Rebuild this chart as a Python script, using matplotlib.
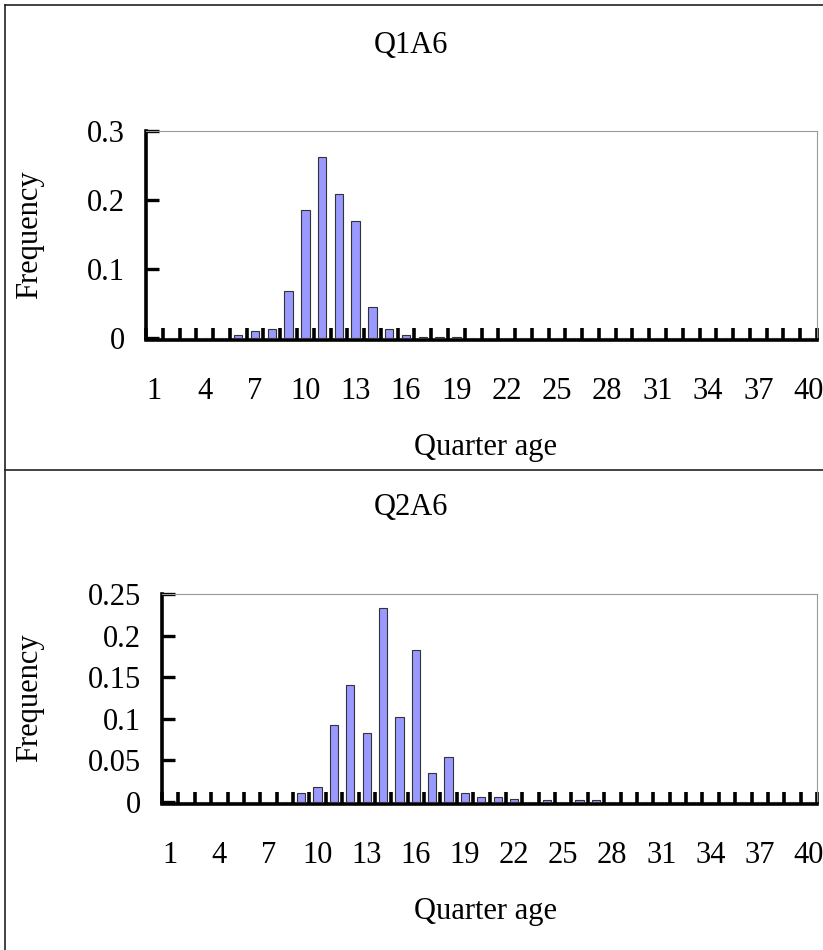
import matplotlib
matplotlib.use("Agg")
import matplotlib.pyplot as plt
from matplotlib.lines import Line2D
import numpy as np

plt.rcParams['font.family'] = ['Liberation Serif', 'DejaVu Serif']

ages = list(range(1, 41))
tick_labels = [str(a) for a in range(1, 41, 3)]

q1_vals = {6: 0.004, 7: 0.010, 8: 0.0135, 9: 0.068, 10: 0.185, 11: 0.263,
           12: 0.208, 13: 0.170, 14: 0.045, 15: 0.0135, 16: 0.004,
           17: 0.001, 18: 0.002, 19: 0.001}
q2_vals = {9: 0.011, 10: 0.018, 11: 0.092, 12: 0.141, 13: 0.083, 14: 0.233,
           15: 0.1025, 16: 0.1825, 17: 0.035, 18: 0.054, 19: 0.011,
           20: 0.006, 21: 0.006, 22: 0.0035, 24: 0.003, 26: 0.003, 27: 0.003}
q1 = [q1_vals.get(a, 0.0) for a in ages]
q2 = [q2_vals.get(a, 0.0) for a in ages]

titles = ["Q1A6", "Q2A6"]
yticks_list = [[0, 0.1, 0.2, 0.3], [0, 0.05, 0.1, 0.15, 0.2, 0.25]]
ytick_labels = [["0", "0.1", "0.2", "0.3"], ["0", "0.05", "0.1", "0.15", "0.2", "0.25"]]

W, H = 823, 950
FS = 22
fig = plt.figure(figsize=(W / 100, H / 100), dpi=100)

def px_axes(l, t, r, b):
    return fig.add_axes([l / W, 1 - b / H, (r - l) / W, (b - t) / H])

layouts = [
    dict(box=(146, 131, 817, 338), title_y=45, xl_y=447),
    dict(box=(162, 594, 817, 802), title_y=508, xl_y=912),
]

for i, (vals, lay) in enumerate(zip([q1, q2], layouts)):
    ax = px_axes(*lay["box"])
    ax.bar(ages, vals, width=0.5, color="#9999FF", edgecolor="#333333", linewidth=0.8, zorder=3)
    ax.set_xlim(0.5, 40.5)
    ymax = yticks_list[i][-1]
    ax.set_ylim(0, ymax)
    ax.set_yticks(yticks_list[i])
    ax.set_yticklabels(ytick_labels[i])
    ax.set_xticks(list(range(1, 41, 3)))
    ax.set_xticklabels(tick_labels)
    ax.set_xticks(np.arange(0.5, 40.6, 1.0), minor=True)
    ax.tick_params(axis='x', which='major', length=0, pad=27, labelsize=FS)
    ax.tick_params(axis='x', which='minor', direction='in', length=8.5, width=2.6, color='black')
    ax.tick_params(axis='y', which='major', direction='in', length=9, width=2.4, pad=15, labelsize=FS)
    for s in ['left', 'bottom']:
        ax.spines[s].set_linewidth(2.6)
        ax.spines[s].set_color('black')
    ax.spines['bottom'].set_position(('outward', 1.2))
    ax.spines['bottom'].set_capstyle('projecting')
    for s in ['top', 'right']:
        ax.spines[s].set_linewidth(0.8)
        ax.spines[s].set_color('#999999')
    ax.set_facecolor('white')
    fig.text(411 / W, 1 - lay["title_y"] / H, titles[i], ha='center', va='center', fontsize=FS)
    fig.text(485 / W, 1 - lay["xl_y"] / H, "Quarter age", ha='center', va='center', fontsize=FS)
    cy = (lay["box"][1] + lay["box"][3]) / 2
    fig.text(30 / W, 1 - cy / H, "Frequency", ha='center', va='center', rotation=90, fontsize=FS)

# outer frame lines
def fline(x0, y0, x1, y1):
    fig.add_artist(Line2D([x0 / W, x1 / W], [1 - y0 / H, 1 - y1 / H],
                          transform=fig.transFigure, color='#222222', linewidth=1.2))

fline(4.5, 5, 4.5, 950)
fline(4.5, 5, 823, 5)
fline(4.5, 470, 823, 470)

fig.savefig("out.png", dpi=100)
